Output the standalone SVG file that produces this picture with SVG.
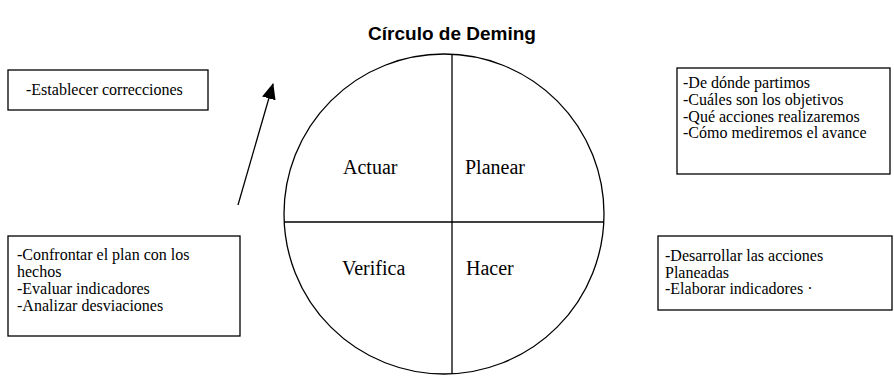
<svg xmlns="http://www.w3.org/2000/svg" width="894" height="376" viewBox="0 0 894 376">
<defs>
<style>
.title{font-family:"Liberation Sans",Arial,sans-serif;font-weight:bold;font-size:19px;fill:#000}
.q{font-family:"Liberation Serif","Times New Roman",serif;font-size:20px;fill:#000}
.t{font-family:"Liberation Serif","Times New Roman",serif;font-size:16px;fill:#000}
.box{fill:#fff;stroke:#000;stroke-width:1.3}
.ln{fill:none;stroke:#000;stroke-width:1.3}
</style>
<marker id="ah" markerWidth="16" markerHeight="14" refX="15" refY="7" orient="auto" markerUnits="userSpaceOnUse">
<path d="M0,0 L16,7 L0,14 Z" fill="#000"/>
</marker>
</defs>
<rect width="894" height="376" fill="#fff"/>
<text class="title" x="452" y="40" text-anchor="middle">Círculo de Deming</text>

<g id="circle">
<circle class="ln" cx="444" cy="214" r="160"/>
<line class="ln" x1="284" y1="222" x2="604" y2="222"/>
<line class="ln" x1="452" y1="54" x2="452" y2="374"/>
<text class="q" x="343" y="174">Actuar</text>
<text class="q" x="465" y="174">Planear</text>
<text class="q" x="342" y="275">Verifica</text>
<text class="q" x="466" y="275">Hacer</text>
</g>

<g id="box-actuar">
<rect class="box" x="8" y="70" width="200" height="40"/>
<text class="t" x="26" y="95">-Establecer correcciones</text>
</g>

<g id="box-planear">
<rect class="box" x="677" y="68" width="213" height="106"/>
<text class="t" x="683" y="88">-De dónde partimos</text>
<text class="t" x="683" y="105">-Cuáles son los objetivos</text>
<text class="t" x="683" y="122">-Qué acciones realizaremos</text>
<text class="t" x="683" y="138">-Cómo mediremos el avance</text>
</g>

<g id="box-verifica">
<rect class="box" x="8" y="236" width="232" height="100"/>
<text class="t" x="17" y="260">-Confrontar el plan con los</text>
<text class="t" x="17" y="277">hechos</text>
<text class="t" x="17" y="294">-Evaluar indicadores</text>
<text class="t" x="17" y="311">-Analizar desviaciones</text>
</g>

<g id="box-hacer">
<rect class="box" x="658" y="236" width="234" height="74"/>
<text class="t" x="665" y="261">-Desarrollar las acciones</text>
<text class="t" x="665" y="278">Planeadas</text>
<text class="t" x="665" y="294">-Elaborar indicadores ·</text>
</g>

<g id="connectors">
<line class="ln" x1="238" y1="205" x2="273" y2="84" marker-end="url(#ah)"/>
</g>
</svg>
